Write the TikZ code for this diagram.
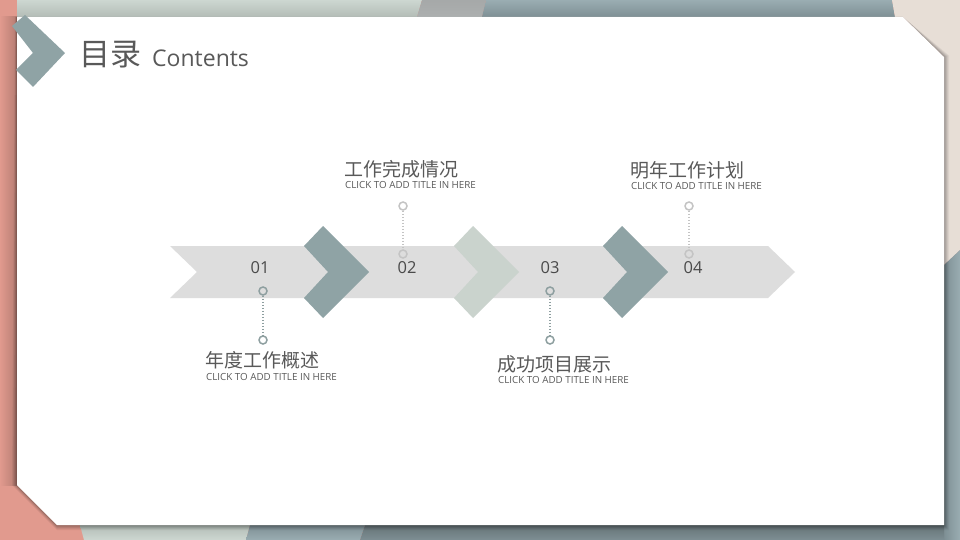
\documentclass[tikz,border=0pt]{standalone}
\usepackage{fontspec}
\setmainfont{Open Sans}
\newfontfamily\cjk{Noto Sans CJK SC}
\definecolor{salmon}{HTML}{E19A8E}
\definecolor{salmondk}{HTML}{B57C72}
\definecolor{sage}{HTML}{CDD7D1}
\definecolor{sagedk}{HTML}{B3BCB6}
\definecolor{bluegray}{HTML}{9AADB2}
\definecolor{bluegraydk}{HTML}{7E8F94}
\definecolor{midgray}{HTML}{9C9F9F}
\definecolor{beige}{HTML}{E7DED6}
\definecolor{band}{HTML}{DDDDDD}
\definecolor{chevdark}{HTML}{8FA3A5}
\definecolor{chevlight}{HTML}{CAD3CD}
\definecolor{txt}{HTML}{595959}
\definecolor{numtxt}{HTML}{4A4A4A}
\definecolor{ringdark}{HTML}{8E9FA0}
\definecolor{ringlight}{HTML}{C4C4C4}
\tikzset{
  heading/.style={anchor=west,inner sep=0pt,text=txt,font=\cjk\fontsize{19}{19}\selectfont},
  subtitle/.style={anchor=west,inner sep=0pt,text=txt,font=\fontsize{9.8}{10}\selectfont},
  numlabel/.style={inner sep=0pt,text=numtxt,font=\fontsize{16.5}{17}\selectfont},
  ring/.style={circle,draw=#1,line width=1.5pt,minimum size=8pt,inner sep=0pt},
  dotline/.style={draw=#1,line width=1.6pt,dash pattern=on 1.5pt off 1.5pt},
}
\begin{document}
\begin{tikzpicture}[x=1pt,y=-1pt]
\useasboundingbox (0,0) rectangle (960,540);
% background frame
\fill[salmon] (0,0) rectangle (960,540);
\shade[top color=sage,bottom color=sagedk] (17,0) -- (422,0) -- (417,17) -- (17,17) -- cycle;
\shade[top color=midgray!90,bottom color=midgray!110!black] (422,0) -- (486,0) -- (482,17) -- (417,17) -- cycle;
\shade[top color=bluegray,bottom color=bluegraydk] (486,0) -- (892,0) -- (895,17) -- (482,17) -- cycle;
\fill[beige] (892,0) -- (960,0) -- (960,250) -- (944,265) -- (944,57) -- (903,17) -- (895,17) -- cycle;
\shade[left color=bluegraydk,right color=bluegray] (944,265) -- (960,250) -- (960,540) -- (944,540) -- cycle;
\shade[top color=sagedk,bottom color=sage] (80,525) -- (250,525) -- (246,540) -- (84,540) -- cycle;
\shade[top color=bluegraydk,bottom color=bluegray] (250,525) -- (365,525) -- (360,540) -- (246,540) -- cycle;
\shade[top color=bluegraydk!80!black,bottom color=bluegraydk] (365,525) -- (944,525) -- (944,540) -- (360,540) -- cycle;
\shade[left color=salmon,right color=salmondk] (0,17) rectangle (17,485);
% panel shadow
\foreach \o/\a in {5/0.05,4/0.06,3/0.07,2/0.08,1/0.09}{
  \fill[black,opacity=\a] (17-\o*0.4,17) -- (903,17) -- (944+\o,57-\o*0.3) -- (944+\o,525+\o) -- (57,525+\o) -- (17-\o,485) -- cycle;
}
% white panel
\fill[white] (17,17) -- (903,17) -- (944,57) -- (944,525) -- (57,525) -- (17,485) -- cycle;
% header
\fill[chevdark] (12,26) -- (25,15) -- (65,53) -- (33,87) -- (16,70) -- (33,53) -- cycle;
\node[anchor=west,inner sep=0pt,text=txt,font=\cjk\fontsize{31}{31}\selectfont] (title) at (79,55) {目录};
\node[anchor=base west,inner sep=0pt,text=txt,font=\fontsize{23}{23}\selectfont] (contents) at (152,67) {Contents};
% band
\fill[band] (170,246) -- (768,246) -- (795,272) -- (768,298) -- (170,298) -- (197,272) -- cycle;
% chevrons
\foreach \dx/\c in {0/chevdark,150/chevlight,299/chevdark}{
  \fill[\c] (304+\dx,246) -- (323+\dx,226) -- (369+\dx,272) -- (323+\dx,318) -- (304+\dx,298) -- (328+\dx,272) -- cycle;
}
% numbers
\node[numlabel] (n1) at (260,268) {01};
\node[numlabel] (n2) at (407,268) {02};
\node[numlabel] (n3) at (550,268) {03};
\node[numlabel] (n4) at (693,268) {04};
% connectors
\node[ring=ringdark] (r1a) at (263,291) {};
\node[ring=ringdark] (r1b) at (263,340) {};
\draw[dotline=ringdark] (r1a) -- (r1b);
\node[ring=ringlight] (r2a) at (403,206) {};
\node[ring=ringlight] (r2b) at (403,254) {};
\draw[dotline=ringlight] (r2a) -- (r2b);
\node[ring=ringdark] (r3a) at (550,291) {};
\node[ring=ringdark] (r3b) at (550,340) {};
\draw[dotline=ringdark] (r3a) -- (r3b);
\node[ring=ringlight] (r4a) at (689,206) {};
\node[ring=ringlight] (r4b) at (689,254) {};
\draw[dotline=ringlight] (r4a) -- (r4b);
% labels
\node[heading] (h2) at (344,169) {工作完成情况};
\node[subtitle] (s2) at (345,185) {CLICK TO ADD TITLE IN HERE};
\node[heading] (h4) at (630,170) {明年工作计划};
\node[subtitle] (s4) at (631,186) {CLICK TO ADD TITLE IN HERE};
\node[heading] (h1) at (205,360) {年度工作概述};
\node[subtitle] (s1) at (206,377) {CLICK TO ADD TITLE IN HERE};
\node[heading] (h3) at (497,364) {成功项目展示};
\node[subtitle] (s3) at (498,380) {CLICK TO ADD TITLE IN HERE};
\end{tikzpicture}
\end{document}
